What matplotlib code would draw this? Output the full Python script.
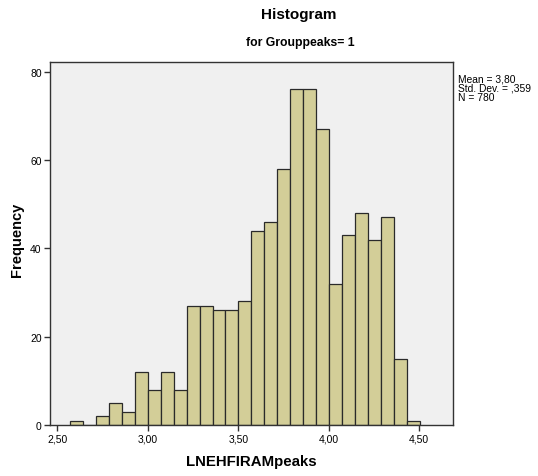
import numpy as np
import matplotlib
matplotlib.use("Agg")
import matplotlib.pyplot as plt

plt.rcParams["font.family"] = ["Liberation Sans", "DejaVu Sans"]

# bin counts (27 bins)
counts = [1, 0, 2, 5, 3, 12, 8, 12, 8, 27, 27, 26, 26, 28,
          44, 46, 58, 76, 76, 67, 32, 43, 48, 42, 47, 15, 1]
bin_lo = 2.571
bin_hi = 4.503
xticks = [2.5, 3.0, 3.5, 4.0, 4.5]
xticklabels = ["2,50", "3,00", "3,50", "4,00", "4,50"]
yticks = [0, 20, 40, 60, 80]
stats_lines = ["Mean = 3,80", "Std. Dev. = ,359", "N = 780"]

edges = np.linspace(bin_lo, bin_hi, len(counts) + 1)

fig = plt.figure(figsize=(5.38, 4.77), dpi=100)
ax = fig.add_axes([50 / 538, 51 / 477, 402.7 / 538, 363 / 477])
ax.set_facecolor("#f0f0f0")

ax.bar(edges[:-1], counts, width=np.diff(edges), align="edge",
       color="#d3ce98", edgecolor="#2a2a2a", linewidth=0.9)

ax.set_xlim(2.46, 4.685)
ax.set_ylim(0, 82.2)
ax.set_xticks(xticks)
ax.set_xticklabels(xticklabels)
ax.set_yticks(yticks)
ax.tick_params(labelsize=7.5, length=4, width=1, color="#333333", pad=2)
for s in ax.spines.values():
    s.set_color("#333333")
    s.set_linewidth(1)

# axis titles placed in figure coords to match the original layout
fig.text(251 / 538, 1 - 462 / 477, "LNEHFIRAMpeaks", ha="center", va="center",
         fontsize=10.8, fontweight="bold")
fig.text(17 / 538, 1 - 240 / 477, "Frequency", ha="center", va="center",
         rotation=90, fontsize=10.5, fontweight="bold")

fig.text(299 / 538, 1 - 15 / 477, "Histogram", ha="center", va="center",
         fontsize=11, fontweight="bold")
fig.text(300 / 538, 1 - 43 / 477, "for Grouppeaks= 1", ha="center", va="center",
         fontsize=8.8, fontweight="bold")
for i, line in enumerate(stats_lines):
    fig.text(458 / 538, 1 - (79 + 9.3 * i) / 477, line, ha="left", va="center",
             fontsize=7.4)

fig.savefig("out.png", dpi=100)
